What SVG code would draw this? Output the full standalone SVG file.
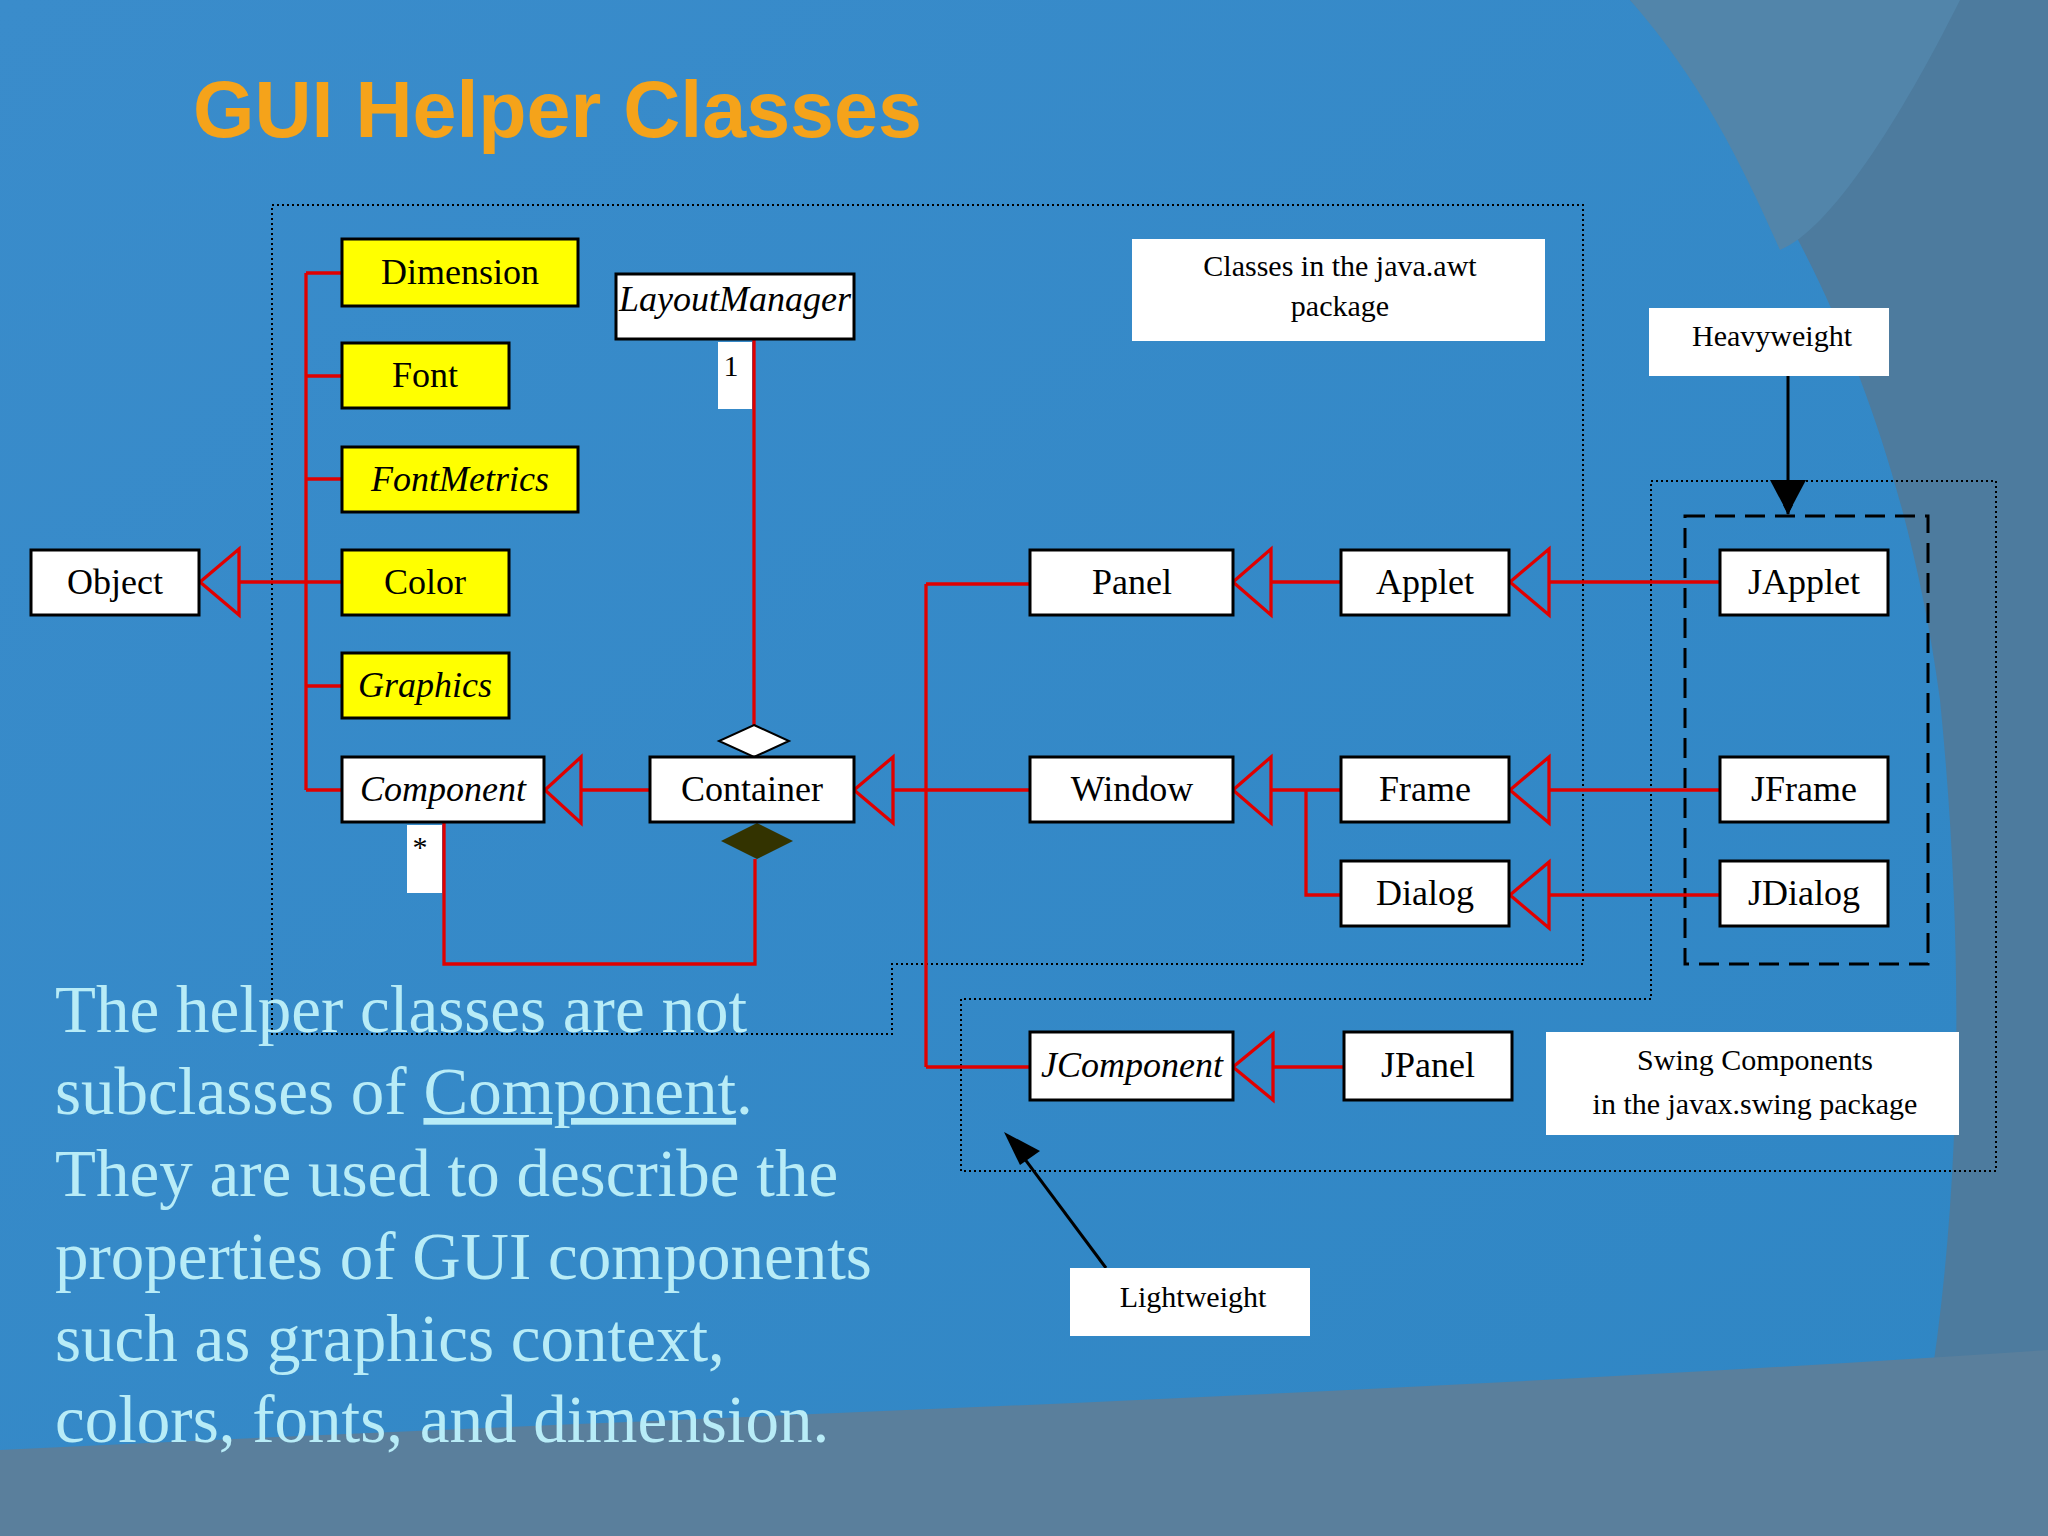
<svg xmlns="http://www.w3.org/2000/svg" width="2048" height="1536" viewBox="0 0 2048 1536">
<defs>
<linearGradient id="bg" x1="0" y1="0" x2="1" y2="1"><stop offset="0" stop-color="#3a8ccb"/><stop offset="1" stop-color="#2f86c4"/></linearGradient>
<marker id="ah" viewBox="0 0 10 10" refX="9" refY="5" markerWidth="10" markerHeight="10" markerUnits="userSpaceOnUse" orient="auto"><path d="M0,0 L10,5 L0,10 z" fill="#000"/></marker>
</defs>
<style>
.n rect{fill:#fff;stroke:#000;stroke-width:3}
.y rect{fill:#ffff00}
.n text{font-family:"Liberation Serif",serif;font-size:36px;text-anchor:middle;fill:#000}
.i text{font-style:italic}
.lb rect{fill:#fff}
.lb text{font-family:"Liberation Serif",serif;font-size:30px;text-anchor:middle;fill:#000}
.r{stroke:#e00000;stroke-width:3.3;fill:none}
.t{stroke:#e00000;stroke-width:3.3;fill:none}
.dot{stroke:#000;stroke-width:2;fill:none;stroke-dasharray:2 3}
.body{font-family:"Liberation Serif",serif;font-size:67px;fill:#b8ecf7}
</style>
<rect width="2048" height="1536" fill="url(#bg)"/>
<path d="M1630,0 C1780,160 1900,400 1940,700 C1970,1000 1960,1300 1900,1536 L2048,1536 L2048,0 Z" fill="#4d7b9e"/>
<path d="M1630,0 C1700,80 1740,160 1780,250 C1830,230 1900,120 1960,0 Z" fill="#5285aa"/>
<path d="M0,1450 C600,1420 1300,1400 2048,1350 L2048,1536 L0,1536 Z" fill="#5a7f9c"/>
<text x="193" y="137" font-family="Liberation Sans,Arial,sans-serif" font-weight="bold" font-size="79" fill="#f5a31a">GUI Helper Classes</text>

<g id="frames">
<path class="dot" d="M272,205 H1583 V964 H892 V1034 H272 Z"/>
<path class="dot" d="M1651,481 H1996 V1171 H961 V999 H1651 Z"/>
<rect x="1685" y="516" width="243" height="448" fill="none" stroke="#000" stroke-width="3" stroke-dasharray="20 10"/>
</g>

<g id="connectors">
<path class="r" d="M306,273 V790 M306,273 H342 M306,376 H342 M306,479 H342 M306,582 H342 M306,686 H342 M306,790 H342 M239,582 H306"/>
<path class="t" d="M200,582 L239,549 L239,615 Z"/>
<path class="r" d="M581,790 H650"/><path class="t" d="M545,790 L581,757 L581,823 Z"/>
<path class="r" d="M893,790 H1030 M926,584 V1067 M926,584 H1030 M926,1067 H1030"/><path class="t" d="M854,790 L893,757 L893,823 Z"/>
<path class="r" d="M1271,582 H1341"/><path class="t" d="M1233,582 L1271,549 L1271,615 Z"/>
<path class="r" d="M1549,582 H1720"/><path class="t" d="M1510,582 L1549,549 L1549,615 Z"/>
<path class="r" d="M1271,790 H1341 M1306,790 V895 H1341"/><path class="t" d="M1233,790 L1271,757 L1271,823 Z"/>
<path class="r" d="M1549,790 H1720"/><path class="t" d="M1510,790 L1549,757 L1549,823 Z"/>
<path class="r" d="M1549,895 H1720"/><path class="t" d="M1510,895 L1549,862 L1549,928 Z"/>
<path class="r" d="M1273,1067 H1344"/><path class="t" d="M1233,1067 L1273,1034 L1273,1100 Z"/>
<path class="r" d="M754,340 V725"/>
<path d="M754,725 L789,741 L754,757 L719,741 Z" fill="#fff" stroke="#000" stroke-width="2"/>
<path class="r" d="M755,859 V964 H444 V823"/>
<path d="M757,823 L793,841 L757,859 L721,841 Z" fill="#333300"/>
<line x1="1788" y1="376" x2="1788" y2="514" stroke="#000" stroke-width="3" marker-end="url(#ah)"/>
<path d="M1770,480 L1806,480 L1788,514 Z" fill="#000"/>
<line x1="1106" y1="1268" x2="1012" y2="1142" stroke="#000" stroke-width="3"/>
<path d="M1004,1132 L1040,1151 L1020,1165 Z" fill="#000"/>
</g>

<g id="Dimension" class="n y"><rect x="342" y="239" width="236" height="67"/><text x="460" y="284">Dimension</text></g>
<g id="Font" class="n y"><rect x="342" y="343" width="167" height="65"/><text x="425" y="387">Font</text></g>
<g id="FontMetrics" class="n y i"><rect x="342" y="447" width="236" height="65"/><text x="460" y="491">FontMetrics</text></g>
<g id="Color" class="n y"><rect x="342" y="550" width="167" height="65"/><text x="425" y="594">Color</text></g>
<g id="Graphics" class="n y i"><rect x="342" y="653" width="167" height="65"/><text x="425" y="697">Graphics</text></g>
<g id="Component" class="n i"><rect x="342" y="757" width="202" height="65"/><text x="443" y="801">Component</text></g>
<g id="Object" class="n"><rect x="31" y="550" width="168" height="65"/><text x="115" y="594">Object</text></g>
<g id="LayoutManager" class="n i"><rect x="616" y="274" width="238" height="65"/><text x="735" y="311" font-size="31">LayoutManager</text></g>
<g id="Container" class="n"><rect x="650" y="757" width="204" height="65"/><text x="752" y="801">Container</text></g>
<g id="Panel" class="n"><rect x="1030" y="550" width="203" height="65"/><text x="1132" y="594">Panel</text></g>
<g id="Applet" class="n"><rect x="1341" y="550" width="168" height="65"/><text x="1425" y="594">Applet</text></g>
<g id="Window" class="n"><rect x="1030" y="757" width="203" height="65"/><text x="1132" y="801">Window</text></g>
<g id="Frame" class="n"><rect x="1341" y="757" width="168" height="65"/><text x="1425" y="801">Frame</text></g>
<g id="Dialog" class="n"><rect x="1341" y="861" width="168" height="65"/><text x="1425" y="905">Dialog</text></g>
<g id="JApplet" class="n"><rect x="1720" y="550" width="168" height="65"/><text x="1804" y="594">JApplet</text></g>
<g id="JFrame" class="n"><rect x="1720" y="757" width="168" height="65"/><text x="1804" y="801">JFrame</text></g>
<g id="JDialog" class="n"><rect x="1720" y="861" width="168" height="65"/><text x="1804" y="905">JDialog</text></g>
<g id="JComponent" class="n i"><rect x="1030" y="1032" width="203" height="68"/><text x="1132" y="1077">JComponent</text></g>
<g id="JPanel" class="n"><rect x="1344" y="1032" width="168" height="68"/><text x="1428" y="1077">JPanel</text></g>

<g id="lblAwt" class="lb"><rect x="1132" y="239" width="413" height="102"/><text x="1340" y="276">Classes in the java.awt</text><text x="1340" y="316">package</text></g>
<g id="lblHeavy" class="lb"><rect x="1649" y="308" width="240" height="68"/><text x="1772" y="346">Heavyweight</text></g>
<g id="lblSwing" class="lb"><rect x="1546" y="1032" width="413" height="103"/><text x="1755" y="1070">Swing Components</text><text x="1755" y="1114">in the javax.swing package</text></g>
<g id="lblLight" class="lb"><rect x="1070" y="1268" width="240" height="68"/><text x="1193" y="1307">Lightweight</text></g>
<g id="m1" class="lb"><rect x="718" y="342" width="34" height="67"/><text x="731" y="376">1</text></g>
<g id="mstar" class="lb"><rect x="407" y="825" width="35" height="68"/><text x="420" y="857">*</text></g>

<g id="body" class="body">
<text x="55" y="1032">The helper classes are not</text>
<text x="55" y="1114">subclasses of <tspan text-decoration="underline">Component</tspan>.</text>
<text x="55" y="1196">They are used to describe the</text>
<text x="55" y="1279">properties of GUI components</text>
<text x="55" y="1361">such as graphics context,</text>
<text x="55" y="1442">colors, fonts, and dimension.</text>
</g>
</svg>
